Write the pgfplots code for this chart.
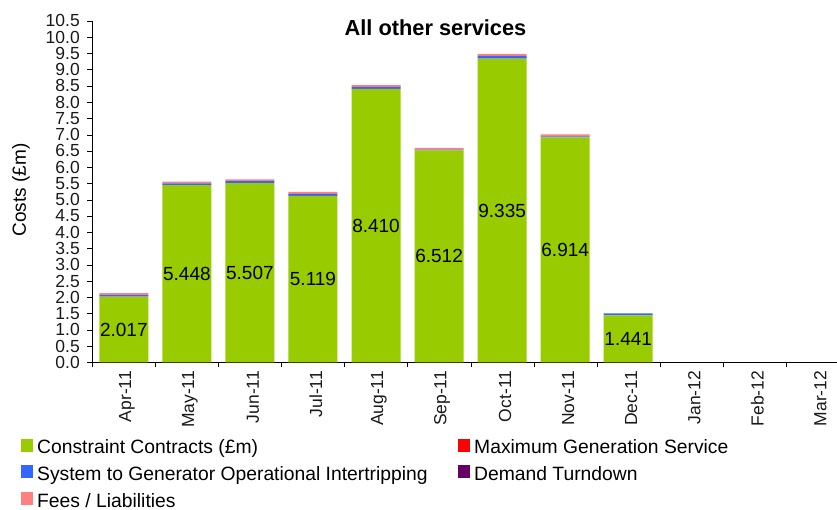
\documentclass[border=0pt]{standalone}
\usepackage{fontspec}
\setmainfont{Liberation Sans}
\usepackage{pgfplots}
\usepackage{pgfplotstable}
\pgfplotsset{compat=1.18}
\definecolor{cgreen}{HTML}{99CC00}
\definecolor{cred}{HTML}{FF0000}
\definecolor{cblue}{HTML}{3366FF}
\definecolor{cpurple}{HTML}{660066}
\definecolor{cpink}{HTML}{FF8080}

% month index, then the five stacked services (GBP m)
\pgfplotstableread{
m green red blue purple pink
0 2.017 0 0.05 0 0.06
1 5.448 0 0.05 0 0.06
2 5.507 0 0.06 0 0.06
3 5.119 0 0.06 0 0.06
4 8.410 0 0.06 0 0.06
5 6.512 0 0.03 0 0.05
6 9.335 0 0.09 0 0.06
7 6.914 0 0.03 0 0.06
8 1.441 0 0.06 0 0.00
}\costs

\begin{document}
\begin{tikzpicture}
\useasboundingbox (-92.3pt,-147.7pt) rectangle (744.7pt,362.3pt);
\begin{axis}[
  at={(0,0)}, anchor=south west,
  scale only axis, width=756.6pt, height=341.5pt,
  ybar stacked, bar width=49pt,
  xmin=-0.5, xmax=11.5, ymin=0, ymax=10.5,
  axis x line*=bottom, axis y line*=left,
  axis line style={black, -},
  tick align=outside,
  major tick length=5pt, minor tick length=5pt,
  xtick={0,...,11},
  xticklabels={Apr-11,May-11,Jun-11,Jul-11,Aug-11,Sep-11,Oct-11,Nov-11,Dec-11,Jan-12,Feb-12,Mar-12},
  major x tick style={draw=none},
  minor xtick={-0.5,0.5,...,11.5},
  ytick={0,0.5,...,10.5},
  yticklabel style={/pgf/number format/fixed, /pgf/number format/fixed zerofill,
    /pgf/number format/precision=1, xshift=-4pt},
  /pgf/number format/assume math mode=true,
  tick style={black},
  tick label style={font=\fontsize{17.5}{17.5}\selectfont, text=black!90},
  xticklabel style={rotate=90, anchor=east, yshift=-3pt},
  ylabel={Costs (£m)},
  every axis y label/.style={at={(axis description cs:0,0.5045)}, xshift=-71.3pt,
    rotate=90, anchor=center, font=\fontsize{19}{19}\selectfont},
  title={All other services},
  title style={at={(axis description cs:0.4536,0.961)}, anchor=center,
    font=\bfseries\fontsize{21.8}{21.8}\selectfont},
  legend columns=2,
  legend image code/.code={\fill[#1] (0pt,-4pt) rectangle (12pt,9pt);},
  legend style={at={(axis description cs:0,0)}, xshift=-71.3pt, yshift=-76pt,
    anchor=north west, draw=none, fill=none, inner sep=0pt,
    font=\fontsize{19.3}{19.3}\selectfont, row sep=10pt,
    nodes={inner sep=0pt},
    /tikz/every odd column/.append style={column sep=4pt}},
  legend cell align=left,
]
\addplot[fill=cgreen, draw=none,
  nodes near coords={\pgfmathprintnumber[fixed,fixed zerofill,precision=3]{\pgfplotspointmeta}},
  every node near coord/.append style={anchor=center, text=black,
    font=\fontsize{19}{19}\selectfont}]
  table[x=m, y=green] {\costs};
\addlegendentry{\makebox[421pt][l]{Constraint Contracts (£m)}}
\addplot[fill=cred, draw=none] table[x=m, y=red] {\costs};
\addlegendentry{Maximum Generation Service}
\addplot[fill=cblue, draw=none] table[x=m, y=blue] {\costs};
\addlegendentry{\makebox[421pt][l]{System to Generator Operational Intertripping}}
\addplot[fill=cpurple, draw=none] table[x=m, y=purple] {\costs};
\addlegendentry{Demand Turndown}
\addplot[fill=cpink, draw=none] table[x=m, y=pink] {\costs};
\addlegendentry{\makebox[421pt][l]{Fees / Liabilities}}
\end{axis}
\end{tikzpicture}
\end{document}
